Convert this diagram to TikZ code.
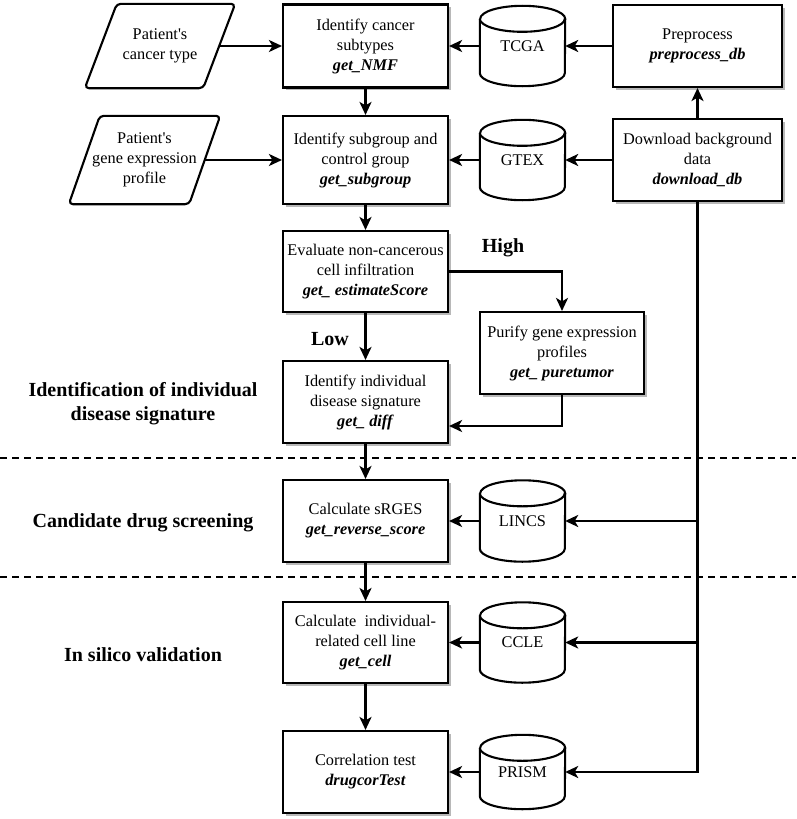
\documentclass[tikz,border=0pt]{standalone}
\usepackage{fontspec}
\setmainfont{Liberation Serif}
\usetikzlibrary{arrows.meta,shadows}
\newcommand\dbcyl[5]{%
  \node[cylnode, minimum height=#4pt] (#1) at (#2,#3) {#5};
  \draw[cylline] ([yshift=-13pt]#1.north west) -- ([yshift=13pt]#1.south west)
     arc[start angle=180, end angle=360, x radius=42.5pt, y radius=13pt]
     -- ([yshift=-13pt]#1.north east)
     arc[start angle=0, end angle=180, x radius=42.5pt, y radius=13pt];
  \draw[cylline] ([yshift=-13pt]#1.north west)
     arc[start angle=180, end angle=360, x radius=42.5pt, y radius=13pt];
}
\begin{document}
\begin{tikzpicture}[x=1pt,y=-1pt,
  txt/.style={font=\fontsize{16.3}{20}\selectfont, align=center},
  box/.style={txt, draw, line width=2.1pt, fill=white, minimum width=165pt,
     minimum height=82pt, inner sep=2pt,
     drop shadow={shadow xshift=2.5pt, shadow yshift=-2.5pt, fill=black!28, opacity=1}},
  para/.style={txt, minimum height=84pt, inner sep=0pt},
  pline/.style={line width=2.1pt, rounded corners=4pt, line join=round},
  cylnode/.style={txt, minimum width=85pt, inner sep=0pt},
  cylline/.style={line width=2.1pt},
  arr/.style={line width=2.9pt, -{Stealth[length=13pt, width=12pt, inset=3.5pt]}},
  lab/.style={font=\bfseries\fontsize{20}{24}\selectfont, align=center},
  dashline/.style={line width=2pt, dash pattern=on 7pt off 5pt}
]
\useasboundingbox (0,0) rectangle (796,819);

% dashed separators
\coordinate (d1l) at (0,458); \coordinate (d1r) at (796,458);
\coordinate (d2l) at (0,577); \coordinate (d2r) at (796,577);
\draw[dashline] (d1l) -- (d1r);
\draw[dashline] (d2l) -- (d2r);

% input parallelograms
\node[para, minimum width=118pt] (p1) at (160,46) {Patient\textquotesingle s\\cancer type};
\draw[pline] ([xshift=16pt]p1.north west) -- ([xshift=16pt]p1.north east)
   -- ([xshift=-16pt]p1.south east) -- ([xshift=-16pt]p1.south west) -- cycle;
\node[para, minimum width=120pt, minimum height=88pt] (p2) at (144.5,160) {Patient\textquotesingle s\\gene expression\\profile};
\draw[pline] ([xshift=15.5pt]p2.north west) -- ([xshift=15.5pt]p2.north east)
   -- ([xshift=-15.5pt]p2.south east) -- ([xshift=-15.5pt]p2.south west) -- cycle;

% main column
\node[box, minimum height=83pt] (b1) at (365.5,46) {Identify cancer\\subtypes\\\textbf{\textit{get\_NMF}}};
\node[box, minimum height=88pt] (b2) at (365.5,160) {Identify subgroup and\\control group\\\textbf{\textit{get\_subgroup}}};
\node[box, minimum height=81pt] (b3) at (365.5,271.5) {Evaluate non-cancerous\\cell infiltration\\\textbf{\textit{get\_ estimateScore}}};
\node[box, minimum width=164pt] (pur) at (562,353) {Purify gene expression\\profiles\\\textbf{\textit{get\_ puretumor}}};
\node[box] (b4) at (365.5,402) {Identify individual\\disease signature\\\textbf{\textit{get\_ diff}}};
\node[box] (b5) at (365.5,521) {Calculate sRGES\\\textbf{\textit{get\_reverse\_score}}};
\node[box, minimum height=81pt] (b6) at (365.5,642.5) {Calculate \ individual-\\related cell line\\\textbf{\textit{get\_cell}}};
\node[box] (b7) at (365.5,772) {Correlation test\\\textbf{\textit{drugcorTest}}};

% right column
\node[box, minimum width=169pt] (pre) at (697.5,46) {Preprocess\\\textbf{\textit{preprocess\_db}}};
\node[box, minimum width=169pt] (dl) at (697.5,160) {Download background\\data\\\textbf{\textit{download\_db}}};

% databases
\dbcyl{tcga}{522.5}{46}{80}{TCGA}
\dbcyl{gtex}{522.5}{160}{80}{GTEX}
\dbcyl{lincs}{522.5}{521}{81}{LINCS}
\dbcyl{ccle}{522.5}{642.5}{80}{CCLE}
\dbcyl{prism}{522.5}{772}{74}{PRISM}

% labels
\node[lab] (l1) at (143,404) {Identification of individual\\disease signature};
\node[lab] (l2) at (143,523) {Candidate drug screening};
\node[lab] (l3) at (143,655) {In silico validation};
\node[lab] (high) at (503,248) {High};
\node[lab] (low) at (330,339) {Low};

% connectors
\draw[arr] (p1.east) -- (b1.west);
\draw[arr] (p2.east) -- (b2.west);
\draw[arr] (tcga.west) -- (b1.east);
\draw[arr] (pre.west) -- (tcga.east);
\draw[arr] (gtex.west) -- (b2.east);
\draw[arr] (dl.west) -- (gtex.east);
\draw[arr] (dl.north) -- (pre.south);
\draw[arr] (b1.south) -- (b2.north);
\draw[arr] (b2.south) -- (b3.north);
\draw[arr] (b3.south) -- (b4.north);
\draw[arr] (b3.east) -| (pur.north);
\draw[arr] (pur.south) |- ([yshift=-24pt]b4.east);
\draw[arr] (b4.south) -- (b5.north);
\draw[arr] (b5.south) -- (b6.north);
\draw[arr] (b6.south) -- (b7.north);
\draw[arr] (lincs.west) -- (b5.east);
\draw[arr] (ccle.west) -- (b6.east);
\draw[arr] (prism.west) -- (b7.east);
\draw[arr] (dl.south) |- (prism.east);
\draw[arr] (dl.south |- lincs.east) -- (lincs.east);
\draw[arr] (dl.south |- ccle.east) -- (ccle.east);
\end{tikzpicture}
\end{document}
